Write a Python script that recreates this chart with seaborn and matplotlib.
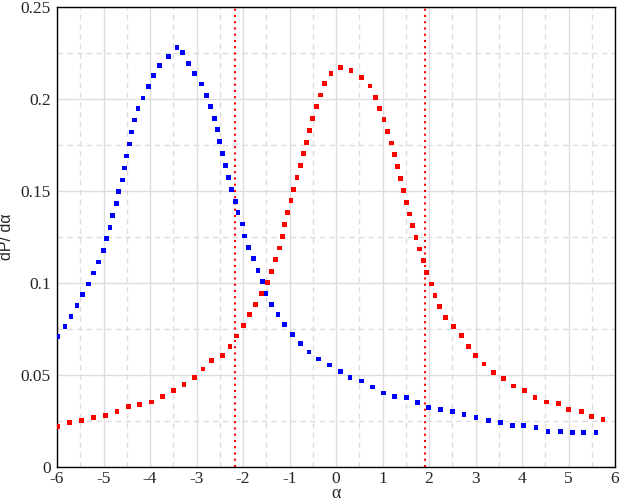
import numpy as np
import pandas as pd
import matplotlib
matplotlib.use("Agg")
import matplotlib.pyplot as plt
import seaborn as sns

# blue curve (peak near alpha = -3.4)
blue_alpha = [-5.99, -5.83, -5.70, -5.57, -5.45, -5.33, -5.22, -5.10, -5.00, -4.93,
              -4.86, -4.80, -4.73, -4.67, -4.60, -4.55, -4.50, -4.45, -4.39, -4.34,
              -4.26, -4.15, -4.04, -3.92, -3.79, -3.61, -3.42, -3.30, -3.18, -3.05,
              -2.90, -2.79, -2.70, -2.62, -2.55, -2.50, -2.44, -2.37, -2.31, -2.24,
              -2.17, -2.11, -2.02, -1.96, -1.88, -1.78, -1.68, -1.59, -1.51, -1.38,
              -1.25, -1.10, -0.94, -0.77, -0.58, -0.37, -0.14, 0.09, 0.30, 0.55,
              0.79, 1.02, 1.26, 1.52, 1.76, 1.99, 2.25, 2.50, 2.75, 3.01,
              3.27, 3.53, 3.79, 4.04, 4.30, 4.56, 4.82, 5.08, 5.33, 5.59]
blue_dp = [0.0708, 0.0761, 0.0816, 0.0874, 0.0936, 0.0993, 0.1053, 0.1113, 0.1176, 0.1239,
           0.1302, 0.1365, 0.1430, 0.1494, 0.1558, 0.1624, 0.1689, 0.1754, 0.1819, 0.1884,
           0.1945, 0.2004, 0.2066, 0.2126, 0.2181, 0.2230, 0.2279, 0.2252, 0.2192, 0.2136,
           0.2080, 0.2019, 0.1958, 0.1894, 0.1831, 0.1766, 0.1701, 0.1636, 0.1573, 0.1508,
           0.1443, 0.1381, 0.1319, 0.1254, 0.1192, 0.1131, 0.1067, 0.1006, 0.0943, 0.0883,
           0.0827, 0.0773, 0.0719, 0.0668, 0.0623, 0.0585, 0.0553, 0.0517, 0.0484, 0.0466,
           0.0433, 0.0401, 0.0383, 0.0376, 0.0350, 0.0322, 0.0313, 0.0302, 0.0284, 0.0268,
           0.0253, 0.0241, 0.0226, 0.0224, 0.0213, 0.0193, 0.0190, 0.0186, 0.0186, 0.0184]

# red curve (peak near alpha = 0.1)
red_alpha = [-5.99, -5.74, -5.48, -5.22, -4.96, -4.71, -4.47, -4.22, -3.96, -3.73,
             -3.50, -3.27, -3.05, -2.86, -2.68, -2.45, -2.28, -2.14, -1.99, -1.86,
             -1.73, -1.61, -1.48, -1.38, -1.31, -1.22, -1.16, -1.10, -1.04, -0.97,
             -0.91, -0.84, -0.77, -0.70, -0.64, -0.57, -0.50, -0.42, -0.34, -0.25,
             -0.11, 0.09, 0.32, 0.54, 0.73, 0.84, 0.94, 1.03, 1.11, 1.20,
             1.26, 1.32, 1.38, 1.45, 1.51, 1.58, 1.65, 1.72, 1.79, 1.88,
             1.95, 2.05, 2.13, 2.23, 2.35, 2.52, 2.70, 2.84, 3.00, 3.18,
             3.38, 3.61, 3.81, 4.05, 4.28, 4.52, 4.78, 5.00, 5.27, 5.50, 5.74]
red_dp = [0.0220, 0.0238, 0.0253, 0.0268, 0.0280, 0.0300, 0.0325, 0.0338, 0.0352, 0.0383,
          0.0415, 0.0446, 0.0486, 0.0531, 0.0578, 0.0605, 0.0655, 0.0710, 0.0769, 0.0826,
          0.0883, 0.0941, 0.0999, 0.1060, 0.1125, 0.1189, 0.1251, 0.1316, 0.1380, 0.1445,
          0.1508, 0.1573, 0.1637, 0.1701, 0.1764, 0.1829, 0.1893, 0.1958, 0.2020, 0.2082,
          0.2138, 0.2171, 0.2153, 0.2115, 0.2069, 0.2008, 0.1947, 0.1885, 0.1824, 0.1759,
          0.1696, 0.1631, 0.1566, 0.1503, 0.1438, 0.1374, 0.1309, 0.1246, 0.1183, 0.1120,
          0.1056, 0.0993, 0.0932, 0.0871, 0.0811, 0.0762, 0.0712, 0.0655, 0.0605, 0.0558,
          0.0513, 0.0480, 0.0439, 0.0412, 0.0378, 0.0352, 0.0345, 0.0309, 0.0300, 0.0271, 0.0257]

vlines = [-2.17, 1.91]

x_ticks = [-6, -5, -4, -3, -2, -1, 0, 1, 2, 3, 4, 5, 6]
y_ticks = [0, 0.05, 0.1, 0.15, 0.2, 0.25]
y_labels = ["0", "0.05", "0.1", "0.15", "0.2", "0.25"]

df = pd.concat([
    pd.DataFrame({"alpha": blue_alpha, "dp": blue_dp, "curve": "blue"}),
    pd.DataFrame({"alpha": red_alpha, "dp": red_dp, "curve": "red"}),
])

sns.set_style("white")
plt.rcParams["font.family"] = ["Liberation Serif", "DejaVu Serif"]
plt.rcParams["font.size"] = 12.5
plt.rcParams["xtick.labelsize"] = 12.5
plt.rcParams["ytick.labelsize"] = 12.5

fig = plt.figure(figsize=(6.2, 5.01), dpi=100)
ax = fig.add_axes([0.092, 0.0685, 0.9, 0.918])

sns.scatterplot(data=df, x="alpha", y="dp", hue="curve",
                palette={"blue": "#0000ff", "red": "#ff0000"},
                marker="s", s=12, linewidth=0, legend=False, ax=ax, zorder=3)

for v in vlines:
    ax.axvline(v, color="#ff0000", linewidth=1.5, linestyle=(0, (1, 2.0)), zorder=2)

ax.set_xlim(-6, 6)
ax.set_ylim(0, 0.25)
ax.set_xticks(x_ticks)
ax.set_xticklabels([str(t) for t in x_ticks])
ax.set_xticks(np.arange(-5.5, 6, 1.0), minor=True)
ax.set_yticks(y_ticks)
ax.set_yticklabels(y_labels)
ax.set_yticks(np.arange(0.025, 0.25, 0.05), minor=True)
ax.grid(True, which="major", color="#dddddd", linewidth=1.0, linestyle="-")
ax.grid(True, which="minor", color="#dddddd", linewidth=1.0, linestyle=(0, (4, 3)))
ax.set_axisbelow(True)
ax.tick_params(which="both", length=0)
ax.tick_params(axis="x", pad=3)
ax.tick_params(axis="y", pad=4.5)

ax.set_xlabel("α", fontsize=13, labelpad=-1)
ax.set_ylabel("dP/ dα", family=["Liberation Sans", "DejaVu Sans"], fontsize=11.5, labelpad=5)

for sp in ax.spines.values():
    sp.set_color("black")
    sp.set_linewidth(1.0)

fig.savefig("out.png", dpi=100)
